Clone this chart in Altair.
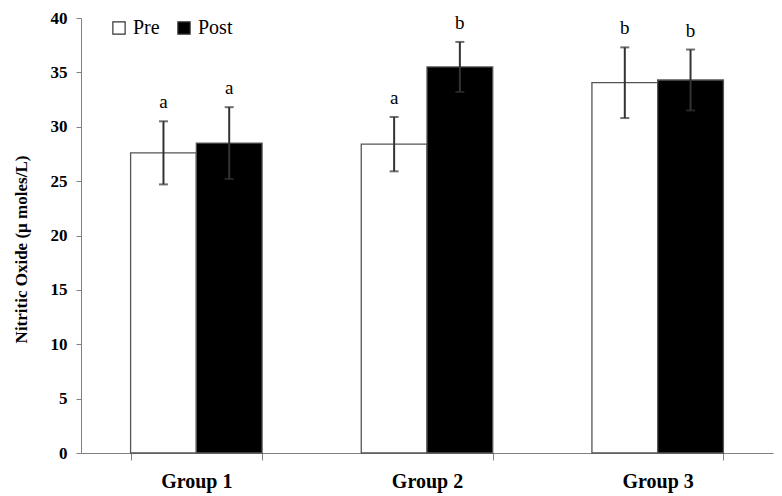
import altair as alt
import pandas as pd

groups = ["Group 1", "Group 1", "Group 2", "Group 2", "Group 3", "Group 3"]
phases = ["Pre", "Post", "Pre", "Post", "Pre", "Post"]
means = [27.6, 28.5, 28.4, 35.5, 34.05, 34.3]
err_lo = [24.7, 25.2, 25.9, 33.2, 30.8, 31.5]
err_hi = [30.5, 31.8, 30.9, 37.8, 37.3, 37.1]
letters = ["a", "a", "a", "b", "b", "b"]
y_ticks = [0, 5, 10, 15, 20, 25, 30, 35, 40]

df = pd.DataFrame({"group": groups, "phase": phases, "mean": means,
                   "lo": err_lo, "hi": err_hi, "letter": letters})

FONT = "Liberation Serif"
AX = "#808080"

x = alt.X("group:N", title=None, sort=["Group 1", "Group 2", "Group 3"],
          scale=alt.Scale(paddingInner=0.43, paddingOuter=0.215),
          axis=alt.Axis(labelAngle=0, tickBand="extent", tickSize=7, tickColor=AX,
                        domainColor=AX, labelFont=FONT, labelFontSize=20,
                        labelFontWeight="bold", labelColor="#000", labelPadding=11))
xo = alt.XOffset("phase:N", sort=["Pre", "Post"],
                 scale=alt.Scale(paddingInner=0, paddingOuter=0))

base = alt.Chart(df)

bars = base.mark_bar(stroke="#555555", strokeWidth=1.3).encode(
    x=x, xOffset=xo,
    y=alt.Y("mean:Q", title="Nitritic Oxide (µ moles/L)",
            scale=alt.Scale(domain=[0, 40], nice=False),
            axis=alt.Axis(values=y_ticks, grid=False, tickSize=5, tickColor=AX,
                          domainColor=AX, labelFont=FONT, labelFontSize=17,
                          labelFontWeight="bold", labelColor="#000", labelPadding=9,
                          titleFont=FONT, titleFontSize=17, titleFontWeight="bold",
                          titleColor="#000", titlePadding=20, titleY=231)),
    fill=alt.Fill("phase:N", sort=["Pre", "Post"],
                  scale=alt.Scale(domain=["Pre", "Post"], range=["#ffffff", "#000000"]),
                  legend=alt.Legend(title=None, orient="none", legendX=28, legendY=0,
                                    direction="horizontal", symbolType="square",
                                    symbolSize=150, symbolStrokeColor="#333333",
                                    symbolStrokeWidth=1.2, labelFont=FONT,
                                    labelFontSize=20, labelColor="#000",
                                    columnPadding=14, labelOffset=4)),
)

stems = base.mark_rule(color="#333333", strokeWidth=2).encode(
    x=x, xOffset=xo, y="lo:Q", y2="hi:Q")

caps_hi = base.mark_tick(color="#333333", size=9, thickness=2).encode(
    x=x, xOffset=xo, y="hi:Q")
caps_lo = base.mark_tick(color="#333333", size=9, thickness=2).encode(
    x=x, xOffset=xo, y="lo:Q")

text = base.mark_text(font=FONT, fontSize=19, dy=-13, baseline="alphabetic",
                      color="#000").encode(
    x=x, xOffset=xo, y="hi:Q", text="letter:N")

chart = alt.layer(bars, stems, caps_hi, caps_lo, text).properties(
    width=692, height=435,
    autosize=alt.AutoSizeParams(type="none"),
    padding={"left": 73, "top": 10, "right": 1, "bottom": 43},
).configure_view(stroke=None)

chart.save("out.html", embed_options={"renderer": "svg", "actions": False})
